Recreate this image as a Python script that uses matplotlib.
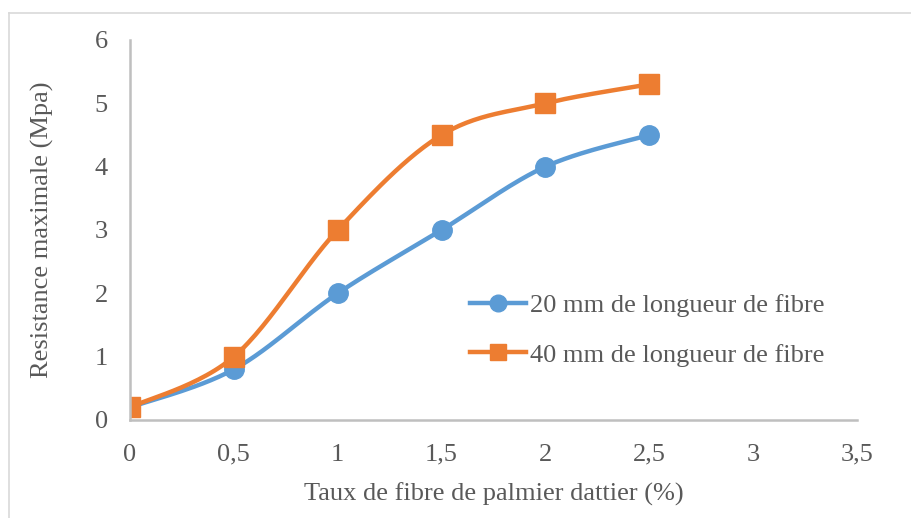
import matplotlib
matplotlib.use('Agg')
import numpy as np
import matplotlib.pyplot as plt
from matplotlib.lines import Line2D
from matplotlib.ticker import FuncFormatter

# data
taux = [0, 0.5, 1, 1.5, 2, 2.5]
res_20mm = [0.2, 0.8, 2, 3, 4, 4.5]
res_40mm = [0.2, 1, 3, 4.5, 5, 5.3]
label_20 = "20 mm de longueur de fibre"
label_40 = "40 mm de longueur de fibre"

blue = '#5B9BD5'
orange = '#ED7D31'
textcol = '#595959'
axiscol = '#BFBFBF'

plt.rcParams['font.family'] = ['Liberation Serif', 'DejaVu Serif']
fs = 19


def smooth(x, y, n=30):
    """Excel-like smoothed line (Catmull-Rom as cubic bezier)"""
    x = np.asarray(x, float)
    y = np.asarray(y, float)
    pts = np.column_stack([x, y])
    out = []
    for i in range(len(pts) - 1):
        p0 = pts[i - 1] if i > 0 else pts[i]
        p1 = pts[i]
        p2 = pts[i + 1]
        p3 = pts[i + 2] if i + 2 < len(pts) else pts[i + 1]
        c1 = p1 + (p2 - p0) / 6
        c2 = p2 - (p3 - p1) / 6
        t = np.linspace(0, 1, n)[:, None]
        seg = ((1 - t) ** 3) * p1 + 3 * ((1 - t) ** 2) * t * c1 + 3 * (1 - t) * t ** 2 * c2 + t ** 3 * p2
        out.append(seg if i == 0 else seg[1:])
    out = np.vstack(out)
    return out[:, 0], out[:, 1]


fig = plt.figure(figsize=(9.11, 5.18), dpi=100)
ax = fig.add_axes([0.1427, 0.1892, 0.7980, 0.7336])

for xs, ys, col, mk, lab in [(taux, res_20mm, blue, 'o', label_20),
                             (taux, res_40mm, orange, 's', label_40)]:
    sx, sy = smooth(xs, ys)
    ax.plot(sx, sy, color=col, lw=3.2, solid_capstyle='round')
    ax.plot(xs, ys, linestyle='none', marker=mk, markersize=14, color=col)

ax.set_xlim(0, 3.5)
ax.set_ylim(0, 6)
ax.set_xticks(np.arange(0, 3.51, 0.5))
ax.set_yticks(range(0, 7))
ax.xaxis.set_major_formatter(FuncFormatter(lambda v, p: ('%g' % v).replace('.', ',')))

for s in ['top', 'right']:
    ax.spines[s].set_visible(False)
for s in ['left', 'bottom']:
    ax.spines[s].set_color(axiscol)
    ax.spines[s].set_linewidth(1.8)

ax.tick_params(length=0, labelsize=fs, colors=textcol)
ax.tick_params(axis='y', pad=16)
ax.tick_params(axis='x', pad=17)
ax.set_xlabel('Taux de fibre de palmier dattier (%)', fontsize=fs, color=textcol, labelpad=12)
ax.set_ylabel('Resistance maximale (Mpa)', fontsize=fs, color=textcol, labelpad=29)

handles = [Line2D([], [], color=blue, lw=3.2, marker='o', markersize=12),
           Line2D([], [], color=orange, lw=3.2, marker='s', markersize=12)]
ax.legend(handles, [label_20, label_40], loc='center left', bbox_to_anchor=(0.468, 0.237),
          frameon=False, fontsize=fs, labelcolor=textcol, handlelength=2.1,
          handletextpad=0.15, labelspacing=1.0, borderpad=0, borderaxespad=0)

# light frame visible at top and left edge of the picture
fig.add_artist(Line2D([8.5 / 911, 1], [1 - 12.5 / 518, 1 - 12.5 / 518], color='#D9D9D9', lw=1.2,
                      transform=fig.transFigure))
fig.add_artist(Line2D([8.5 / 911, 8.5 / 911], [0, 1 - 12.5 / 518], color='#D9D9D9', lw=1.2,
                      transform=fig.transFigure))

fig.savefig('out.png', dpi=100)
